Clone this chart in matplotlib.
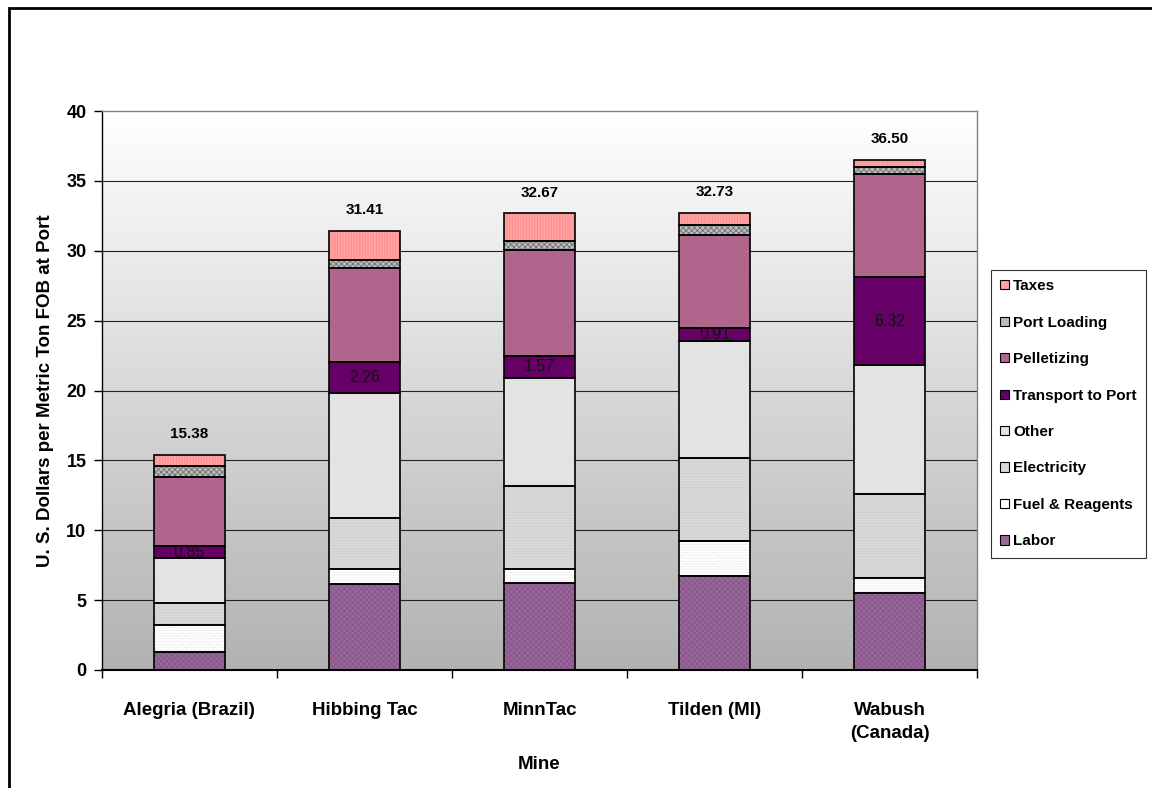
import numpy as np
import matplotlib
matplotlib.use("Agg")
import matplotlib.pyplot as plt
from matplotlib.patches import Patch, Rectangle

plt.rcParams['font.family'] = ['Liberation Sans', 'DejaVu Sans']
plt.rcParams['hatch.linewidth'] = 0.6

mines = ["Alegria (Brazil)", "Hibbing Tac", "MinnTac", "Tilden (MI)", "Wabush\n(Canada)"]
labor = [1.30, 6.15, 6.25, 6.75, 5.50]
fuel_reagents = [1.90, 1.05, 0.95, 2.45, 1.10]
electricity = [1.60, 3.65, 6.00, 6.00, 6.00]
other = [3.20, 8.95, 7.70, 8.35, 9.20]
transport = [0.85, 2.26, 1.57, 0.91, 6.32]
pelletizing = [4.95, 6.70, 7.60, 6.65, 7.40]
port_loading = [0.80, 0.60, 0.60, 0.75, 0.50]
taxes = [0.78, 2.05, 2.00, 0.87, 0.48]
totals = [15.38, 31.41, 32.67, 32.73, 36.50]

series = [
    ("Labor", labor, "#9A679B", "xxxxxx", "#86548a"),
    ("Fuel & Reagents", fuel_reagents, "#FFFFFF", "......", "#e6e6e6"),
    ("Electricity", electricity, "#D9D9D9", "------", "#cfcfcf"),
    ("Other", other, "#E3E3E3", None, None),
    ("Transport to Port", transport, "#660066", None, None),
    ("Pelletizing", pelletizing, "#B0668C", None, None),
    ("Port Loading", port_loading, "#BDBDBD", "xxxxxx", "#6e6e6e"),
    ("Taxes", taxes, "#FFA3A3", "||||||", "#ff8c8c"),
]

W, H = 1152, 788
fig = plt.figure(figsize=(W / 100, H / 100), dpi=100)
fig.patch.set_facecolor("white")

# outer chart-area border
fig.add_artist(Rectangle((9 / W, -0.1), 1.2, 1 - 8 / H + 0.1, transform=fig.transFigure,
                         fill=False, edgecolor="black", linewidth=2.0, zorder=0))

left, right, top, bottom = 101.7, 977.3, 111, 670
ax = fig.add_axes([left / W, 1 - bottom / H, (right - left) / W, (bottom - top) / H])

# gradient background
grad = np.linspace(0, 1, 256).reshape(-1, 1)
cmap = matplotlib.colors.LinearSegmentedColormap.from_list("g", ["#B2B2B2", "#FFFFFF"])
ax.imshow(grad, aspect="auto", cmap=cmap, origin="lower",
          extent=[0, 1, 0, 1], transform=ax.transAxes, zorder=0)

x = np.arange(len(mines))
bw = 0.405
ax.set_xlim(-0.5, len(mines) - 0.5)
ax.set_ylim(0, 40)

for yv in range(5, 40, 5):
    ax.axhline(yv, color="#222222", linewidth=0.8, zorder=1)

bottoms = np.zeros(len(mines))
for name, vals, fc, hatch, hc in series:
    vals = np.array(vals)
    if hatch:
        ax.bar(x, vals, bw, bottom=bottoms, color=fc, edgecolor=hc, hatch=hatch,
               linewidth=0, zorder=2)
    else:
        ax.bar(x, vals, bw, bottom=bottoms, color=fc, linewidth=0, zorder=2)
    ax.bar(x, vals, bw, bottom=bottoms, fill=False, edgecolor="black", linewidth=1.2, zorder=3)
    if name == "Transport to Port":
        for xi, b, v in zip(x, bottoms, vals):
            ax.text(xi, b + v / 2, f"{v:.2f}", ha="center", va="center",
                    fontsize=11.5, color="#111111", zorder=4)
    bottoms = bottoms + vals

for xi, t in zip(x, totals):
    ax.annotate(f"{t:.2f}", (xi, t), xytext=(0, 15), textcoords="offset points",
                ha="center", va="center", fontsize=11, fontweight="bold", zorder=4)

# axes styling
for s in ["top", "right"]:
    ax.spines[s].set_color("#808080")
    ax.spines[s].set_linewidth(1.0)
ax.spines["left"].set_color("black")
ax.spines["bottom"].set_color("black")
ax.spines["left"].set_linewidth(1.0)
ax.spines["bottom"].set_linewidth(1.5)

ax.set_yticks(range(0, 41, 5))
ax.tick_params(axis="y", direction="out", length=6, width=1, pad=5, labelsize=13)
for lab in ax.get_yticklabels():
    lab.set_fontweight("bold")

ax.set_xticks(x)
ax.set_xticklabels(mines, fontsize=13.5, fontweight="bold", va="top", linespacing=1.5)
ax.tick_params(axis="x", length=0, pad=23)
ax.set_xticks(np.arange(-0.5, len(mines), 1.0), minor=True)
ax.tick_params(axis="x", which="minor", length=6, width=1, direction="out")

ax.set_xlabel("Mine", fontsize=13.5, fontweight="bold", labelpad=10)
ax.set_ylabel("U. S. Dollars per Metric Ton FOB at Port", fontsize=13.5, fontweight="bold", labelpad=9)

handles = []
for name, vals, fc, hatch, hc in reversed(series):
    handles.append(Patch(facecolor=fc, edgecolor="black", linewidth=0.8, label=name))
leg = fig.legend(handles=handles, loc="upper left", bbox_to_anchor=(991 / W, 1 - 270 / H),
                 frameon=True, fancybox=False, edgecolor="black",
                 prop={"weight": "bold", "size": 11},
                 handlelength=0.55, handleheight=0.55, handletextpad=0.3,
                 labelspacing=1.47, borderpad=0.6, borderaxespad=0)
leg.get_frame().set_linewidth(0.8)

fig.savefig("out.png", dpi=100)
